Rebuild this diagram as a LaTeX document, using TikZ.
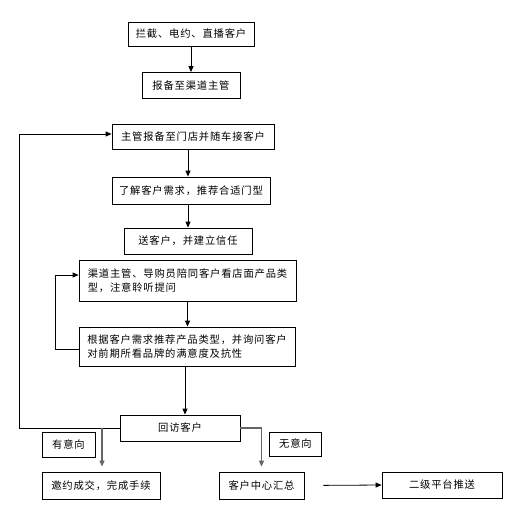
\documentclass[tikz,border=0pt]{standalone}
\usepackage{fontspec}
\setmainfont{Noto Sans CJK SC}[LetterSpace=8]
\usetikzlibrary{arrows.meta,calc}
\begin{document}
\begin{tikzpicture}[x=1pt,y=-1pt,
  box/.style={draw=black,line width=0.8pt,inner sep=0pt,font=\fontsize{10.3}{14.5}\selectfont},
  arr/.style={draw=black,line width=0.8pt,-{Triangle[length=6pt,width=5pt]}},
  garr/.style={line width=1.2pt,-{Triangle[length=6pt,width=5pt]},draw=black!60,color=black!60}]
\useasboundingbox (0,0) rectangle (511,520);
\node[box,minimum width=126pt,minimum height=24pt] (b1) at (191,34) {拦截、电约、直播客户};
\node[box,minimum width=98pt,minimum height=26pt] (b2) at (191,85.5) {报备至渠道主管};
\node[box,minimum width=162pt,minimum height=25pt] (b3) at (193,136.5) {主管报备至门店并随车接客户};
\node[box,minimum width=158pt,minimum height=27pt] (b4) at (191,190.5) {了解客户需求，推荐合适门型};
\node[box,minimum width=128pt,minimum height=26pt] (b5) at (188,241) {送客户，并建立信任};
\node[box,minimum width=217pt,minimum height=41pt,align=left] (b6) at (187.5,280.5) {渠道主管、导购员陪同客户看店面产品类\\型，注意聆听提问};
\node[box,minimum width=216pt,minimum height=39pt,align=left] (b7) at (187,346.5) {根据客户需求推荐产品类型，并询问客户\\对前期所看品牌的满意度及抗性};
\node[box,minimum width=120pt,minimum height=26pt] (b8) at (180,428) {回访客户};
\node[box,minimum width=53pt,minimum height=25pt] (l1) at (68.5,444.5) {有意向};
\node[box,minimum width=118pt,minimum height=27pt] (b9) at (101,485.5) {邀约成交，完成手续};
\node[box,minimum width=52pt,minimum height=24pt] (l2) at (295.5,444) {无意向};
\node[box,minimum width=85pt,minimum height=27pt] (b10) at (261.5,485.5) {客户中心汇总};
\node[box,minimum width=120pt,minimum height=26pt] (b11) at (442,485) {二级平台推送};
\draw[arr] (b1.south) -- (b1.south |- b2.north);
\draw[arr] ([xshift=-5pt]b3.south) -- ([xshift=-5pt]b3.south |- b4.north);
\draw[arr] ([xshift=-3pt]b4.south) -- ([xshift=-3pt]b4.south |- b5.north);
\draw[arr] (b6.south) -- (b6.south |- b7.north);
\draw[arr] ([xshift=-2pt]b7.south) -- ([xshift=-2pt]b7.south |- b8.north);
\coordinate (c1) at (55,349);
\draw[arr] ([yshift=-2.5pt]b7.west) -- (c1) |- ([yshift=5.5pt]b6.west);
\coordinate (c2) at (19,428);
\draw[arr] (b8.west) -- (c2) |- ([yshift=2.5pt]b3.west);
\coordinate (j1) at (102,428);
\draw[garr,shorten >=5pt] (j1) -- (j1 |- b9.north);
\draw[garr,shorten >=5pt] (b8.east) -| (b10.north);
\draw[arr,shorten <=19pt] (b10.east) -- (b11.west);
\end{tikzpicture}
\end{document}
